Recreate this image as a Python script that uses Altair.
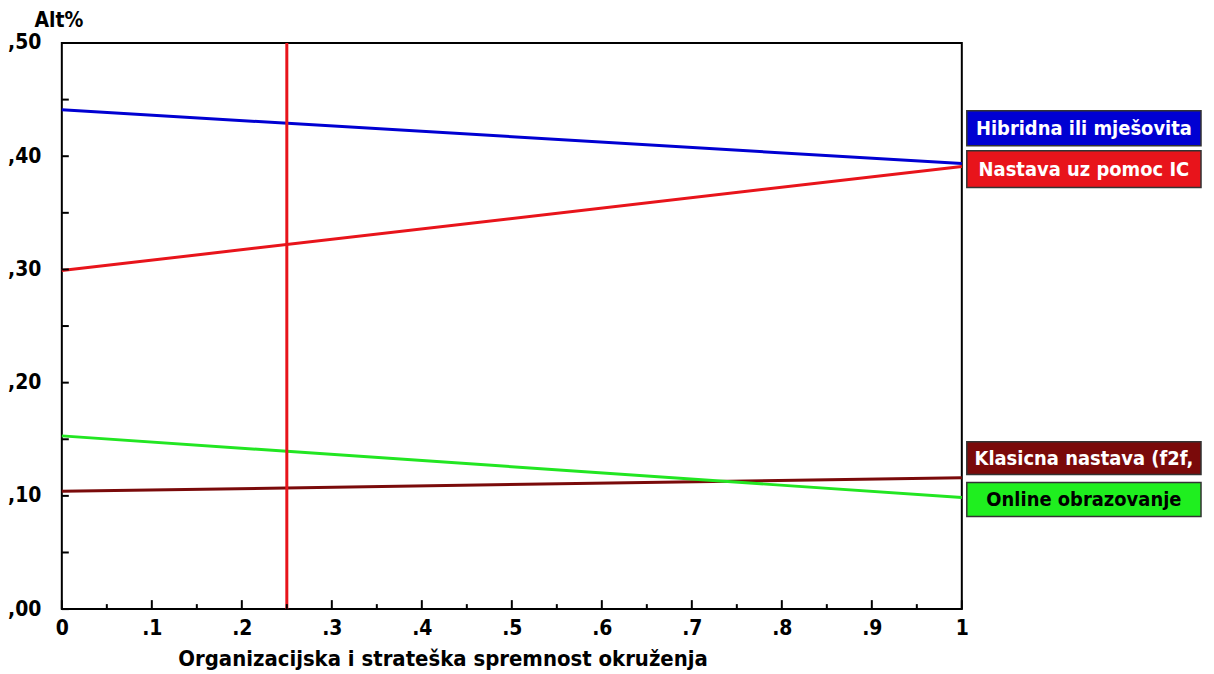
import altair as alt
import pandas as pd

series_names = ["Hibridna ili mješovita", "Nastava uz pomoc IC", "Klasicna nastava (f2f,", "Online obrazovanje"]
series_colors = ["#0000d2", "#e8141b", "#7a0a0a", "#22e622"]
box_colors = ["#0000d2", "#e8141b", "#7a0a0a", "#1fef1f"]
text_colors = ["white", "white", "white", "black"]
x_vals = [0.0, 1.0]
y_hibridna = [0.441, 0.3935]
y_ic = [0.299, 0.391]
y_klasicna = [0.104, 0.116]
y_online = [0.153, 0.0985]
marker_x = [0.25]
x_major = [0, 0.1, 0.2, 0.3, 0.4, 0.5, 0.6, 0.7, 0.8, 0.9, 1.0]
x_minor = [0.05, 0.15, 0.25, 0.35, 0.45, 0.55, 0.65, 0.75, 0.85, 0.95]
y_major = [0, 0.1, 0.2, 0.3, 0.4, 0.5]
y_minor = [0.05, 0.15, 0.25, 0.35, 0.45]

rows = []
for name, ys in zip(series_names, [y_hibridna, y_ic, y_klasicna, y_online]):
    for xv, yv in zip(x_vals, ys):
        rows.append({"x": xv, "y": yv, "series": name})
df = pd.DataFrame(rows)

FONT = "'DejaVu Sans Condensed', 'Liberation Sans', sans-serif"
W, H = 903, 568
FS = 21

xscale = alt.Scale(domain=[0, 1], nice=False, zero=False)
yscale = alt.Scale(domain=[0, 0.5], nice=False)

lines = alt.Chart(df).mark_line(strokeWidth=3).encode(
    x=alt.X("x:Q", scale=xscale,
            axis=alt.Axis(values=x_major, ticks=False, domain=False, grid=False,
                          labelExpr="datum.value == 0 ? '0' : datum.value == 1 ? '1' : replace(format(datum.value, '.1f'), '0.', '.')",
                          labelFont=FONT, labelFontSize=FS, labelFontWeight="bold", labelColor="black",
                          labelPadding=8, labelFlush=False,
                          title="Organizacijska i strateška spremnost okruženja",
                          titleFont=FONT, titleFontSize=FS + 1, titleFontWeight="bold", titleColor="black",
                          titleX=382, titleY=50, titleBaseline="middle", titleAnchor="middle")),
    y=alt.Y("y:Q", scale=yscale,
            axis=alt.Axis(values=y_major, ticks=False, domain=False, grid=False,
                          labelExpr="replace(format(datum.value, '.2f'), '0.', ',')",
                          labelFont=FONT, labelFontSize=FS, labelFontWeight="bold", labelColor="black",
                          labelPadding=21, labelFlush=False,
                          title="Alt%", titleAngle=0, titleFont=FONT, titleFontSize=FS,
                          titleFontWeight="bold", titleColor="black",
                          titleX=-28, titleY=-23, titleAlign="left", titleBaseline="middle")),
    color=alt.Color("series:N", scale=alt.Scale(domain=series_names, range=series_colors), legend=None),
    detail="series:N",
)

vline = alt.Chart(pd.DataFrame({"x": marker_x})).mark_rule(color="#e8141b", strokeWidth=3).encode(
    x=alt.X("x:Q", scale=xscale), y=alt.value(0), y2=alt.value(H))

xt_major = alt.Chart(pd.DataFrame({"t": x_major})).mark_rule(color="black", strokeWidth=2).encode(
    x=alt.X("t:Q", scale=xscale), y=alt.value(H), y2=alt.value(H - 9))
xt_minor = alt.Chart(pd.DataFrame({"t": x_minor})).mark_rule(color="black", strokeWidth=2).encode(
    x=alt.X("t:Q", scale=xscale), y=alt.value(H), y2=alt.value(H - 5))
yt_major = alt.Chart(pd.DataFrame({"t": y_major})).mark_rule(color="black", strokeWidth=2).encode(
    y=alt.Y("t:Q", scale=yscale), x=alt.value(0), x2=alt.value(7))
yt_minor = alt.Chart(pd.DataFrame({"t": y_minor})).mark_rule(color="black", strokeWidth=2).encode(
    y=alt.Y("t:Q", scale=yscale), x=alt.value(0), x2=alt.value(7))

box_tops = [68, 108, 400, 441]
box_h = [35, 37, 33, 34]
bx0, bx1 = 908, 1143
layers = [lines, vline, xt_major, xt_minor, yt_major, yt_minor]
for name, bc, tc, top, h in zip(series_names, box_colors, text_colors, box_tops, box_h):
    d = alt.Data(values=[{"label": name}])
    rect = alt.Chart(d).mark_rect(fill=bc, stroke="#333333", strokeWidth=1.5).encode(
        x=alt.value(bx0), x2=alt.value(bx1), y=alt.value(top), y2=alt.value(top + h))
    txt = alt.Chart(d).mark_text(font=FONT, fontSize=20, fontWeight="bold", color=tc,
                                 align="center", baseline="middle").encode(
        text="label:N", x=alt.value((bx0 + bx1) / 2), y=alt.value(top + h / 2 + 1))
    layers += [rect, txt]

chart = alt.layer(*layers).properties(
    width=W, height=H,
    autosize=alt.AutoSizeParams(type="none"),
    padding={"left": 54, "top": 34, "right": 245, "bottom": 60},
    background="white",
).configure_view(stroke="black", strokeWidth=2)

chart.save("out.html", embed_options={"renderer": "svg", "actions": False})
